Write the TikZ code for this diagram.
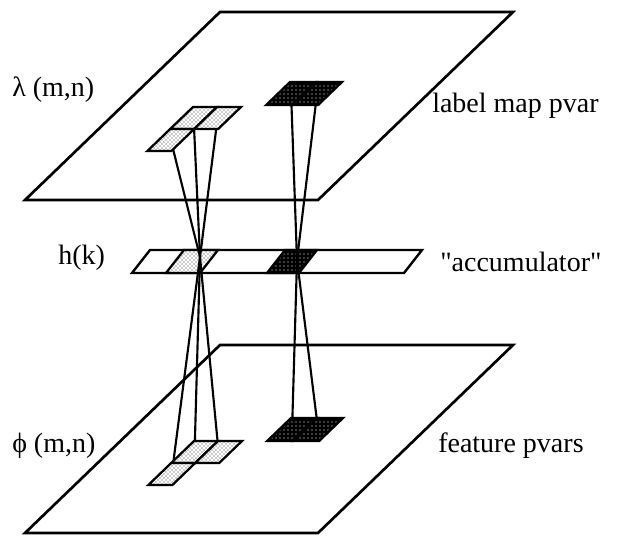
\documentclass[tikz,border=0pt]{standalone}
\usepackage{fontspec}
\setmainfont{Liberation Serif}[Ligatures=TeXOff]
\usetikzlibrary{patterns}

\begin{document}
\begin{tikzpicture}[x=0.75pt,y=-0.75pt,
  plane/.style={draw=black, line width=2pt, line join=miter},
  ray/.style={draw=black, line width=1.6pt},
  lightcell/.style={draw=black, line width=1.7pt, preaction={fill=white},
    pattern=crosshatch dots, pattern color=black!85},
  darkcell/.style={draw=black, line width=1.7pt, preaction={fill=black},
    pattern=dots, pattern color=white},
  strip/.style={draw=black, line width=1.8pt, fill=white},
  lbl/.style={font=\fontsize{21}{24}\selectfont, anchor=west, inner sep=0pt}]
\useasboundingbox (0,0) rectangle (625,542);

% the two planes (label map above, features below)
\draw[plane] (220,12) -- (513,12) -- (318,200) -- (25,200) -- cycle;
\draw[plane] (220,345) -- (513,345) -- (318,533) -- (25,533) -- cycle;

% accumulator strip with its two active bins
\draw[strip] (150,250) -- (422,250) -- (404,273) -- (132,273) -- cycle;
\draw[lightcell] (184,250) -- (218,250) -- (200,273) -- (166,273) -- cycle;
\draw[darkcell] (285,250) -- (317,250) -- (299,273) -- (267,273) -- cycle;
\coordinate (accL) at (200,257);
\coordinate (accR) at (297,260);

% cell centres in the label map plane
\begin{scope}[shift={(193,107)}, xslant=1.037]
  \coordinate (tUL) at (12,11);
  \coordinate (tUR) at (36,11);
  \coordinate (tLL) at (12,33);
\end{scope}
\begin{scope}[shift={(290,82)}, xslant=1.037]
  \coordinate (tRa) at (13,11.5);
  \coordinate (tRb) at (39,11.5);
\end{scope}
% cell centres in the feature plane
\begin{scope}[shift={(194,441)}, xslant=1.037]
  \coordinate (bUL) at (12,11);
  \coordinate (bUR) at (36,11);
  \coordinate (bLL) at (12,33);
\end{scope}
\begin{scope}[shift={(291,418)}, xslant=1.037]
  \coordinate (bRa) at (13,11.5);
  \coordinate (bRb) at (39,11.5);
\end{scope}

% rays through the accumulator
\draw[ray] (tLL) -- (accL) -- (bLL);
\draw[ray] (tUL) -- (accL) -- (bUL);
\draw[ray] (tUR) -- (accL) -- (bUR);
\draw[ray] (tRa) -- (accR) -- (bRa);
\draw[ray] (tRb) -- (accR) -- (bRb);

% pixel windows in the label map plane
\begin{scope}[shift={(193,107)}, xslant=1.037]
  \draw[lightcell] (0,0) rectangle (24,22);
  \draw[lightcell] (24,0) rectangle (48,22);
  \draw[lightcell] (0,22) rectangle (24,44);
\end{scope}
\begin{scope}[shift={(290,82)}, xslant=1.037]
  \draw[darkcell] (0,0) rectangle (26,23);
  \draw[darkcell] (26,0) rectangle (52,23);
\end{scope}
% pixel windows in the feature plane
\begin{scope}[shift={(194,441)}, xslant=1.037]
  \draw[lightcell] (0,0) rectangle (24,22);
  \draw[lightcell] (24,0) rectangle (48,22);
  \draw[lightcell] (0,22) rectangle (24,44);
\end{scope}
\begin{scope}[shift={(291,418)}, xslant=1.037]
  \draw[darkcell] (0,0) rectangle (26,23);
  \draw[darkcell] (26,0) rectangle (52,23);
\end{scope}

% labels
\node[lbl] (lam)    at (12,90)   {λ (m,n)};
\node[lbl] (labmap) at (432,106) {label map pvar};
\node[lbl] (hk)     at (58,258)  {h(k)};
\node[lbl] (acc)    at (440,262) {"accumulator"};
\node[lbl] (phi)    at (12,446)  {ϕ (m,n)};
\node[lbl] (feat)   at (438,446) {feature pvars};
\end{tikzpicture}
\end{document}
